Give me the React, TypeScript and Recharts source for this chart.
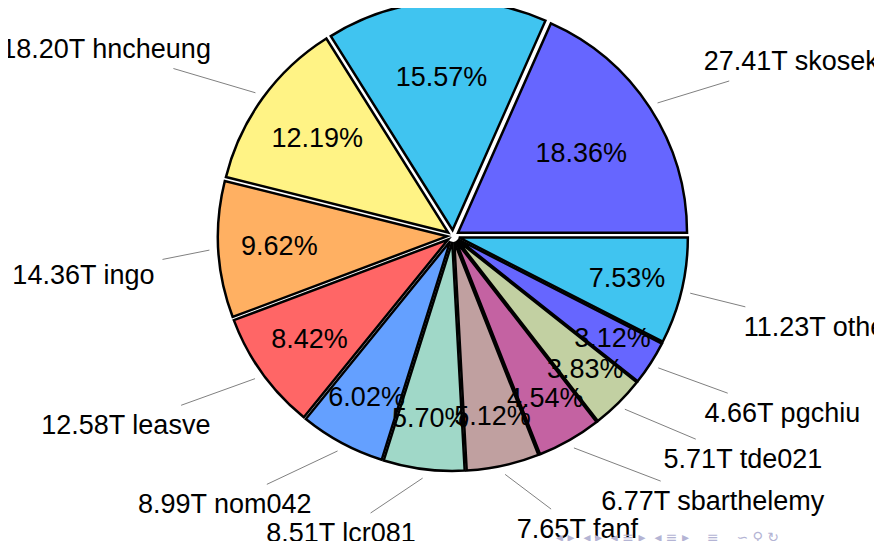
import { PieChart, Pie, Cell, Sector } from 'recharts';

// who uses the disk, in TB, and their share of the total
const users = ['skoseki', '', 'hncheung', 'ingo', 'leasve', 'nom042', 'lcr081', 'fanf', 'sbarthelemy', 'tde021', 'pgchiu', 'others'];
const sizes = [27.41, 23.25, 18.2, 14.36, 12.58, 8.99, 8.51, 7.65, 6.77, 5.71, 4.66, 11.23];
const shares = [18.36, 15.57, 12.19, 9.62, 8.42, 6.02, 5.7, 5.12, 4.54, 3.83, 3.12, 7.53];

const colors = [
  '#6666ff', '#40c4f0', '#fff385', '#ffb062', '#ff6666', '#64a0ff',
  '#a0d8c8', '#c0a0a0', '#c462a2', '#c2d0a2', '#6666ff', '#40c4f0',
];

const data = users.map((name, i) => ({ name, size: sizes[i], share: shares[i] }));

const RADIAN = Math.PI / 180;
const R = 229;
const EXPLODE = 6;
const FONT = "'Liberation Sans', Arial, sans-serif";
const FONT_SIZE = 27;

let ctx: CanvasRenderingContext2D | null = null;
const measure = (text: string) => {
  if (!ctx) ctx = document.createElement('canvas').getContext('2d');
  if (!ctx) return text.length * 13;
  ctx.font = `${FONT_SIZE}px ${FONT}`;
  return ctx.measureText(text).width;
};

// pull each slice out a little along its middle angle
const ExplodedSlice = (props: any) => {
  const { cx, cy, midAngle } = props;
  const ux = Math.cos(midAngle * RADIAN);
  const uy = -Math.sin(midAngle * RADIAN);
  return <Sector {...props} cx={cx + EXPLODE * ux} cy={cy + EXPLODE * uy} />;
};

const renderLabel = (props: any) => {
  const { cx, cy, midAngle, index } = props;
  const ux = Math.cos(midAngle * RADIAN);
  const uy = -Math.sin(midAngle * RADIAN);
  const ox = cx + EXPLODE * ux;
  const oy = cy + EXPLODE * uy;

  // smaller slices get their percentage pushed further out
  const rIn = 191 - 2.4 * shares[index];
  const pct = (
    <text
      x={ox + rIn * ux}
      y={oy + rIn * uy}
      textAnchor="middle"
      dominantBaseline="central"
      fill="#000"
      fontSize={FONT_SIZE}
      fontFamily={FONT}
    >
      {shares[index].toFixed(2)}%
    </text>
  );

  const name = users[index];
  if (!name) return <g>{pct}</g>;

  const text = `${sizes[index].toFixed(2)}T ${name}`;
  const w = measure(text);
  const ex = cx + (R + 70) * ux;
  const ey = cy + (R + 70) * uy;
  const anchor = ux > 0 ? 'start' : 'end';
  const ly = ey + (uy < 0 ? -12 : 22 * ux * ux);
  const x0 = anchor === 'start' ? ex : ex - w;
  const lx = x0 + w / 2;
  const hw = w / 2 + 8;
  const hh = 20;

  // pin line from just outside the pie towards the label box
  const sx = cx + (R + 15) * ux;
  const sy = cy + (R + 15) * uy;
  const dx = lx - sx;
  const dy = ly - sy;
  const tx = dx !== 0 ? (dx > 0 ? lx - hw - sx : lx + hw - sx) / dx : -Infinity;
  const ty = dy !== 0 ? (dy > 0 ? ly - hh - sy : ly + hh - sy) / dy : -Infinity;
  const t = Math.max(0, Math.min(1, Math.max(tx, ty)));

  return (
    <g>
      {pct}
      <line x1={sx} y1={sy} x2={sx + t * dx} y2={sy + t * dy} stroke="#808080" strokeWidth={1} />
      <text
        x={ex}
        y={ly}
        textAnchor={anchor}
        dominantBaseline="central"
        fill="#000"
        fontSize={FONT_SIZE}
        fontFamily={FONT}
      >
        {text}
      </text>
    </g>
  );
};

export default function App() {
  return (
    <div style={{ margin: -8, position: 'relative', width: 882, height: 549, background: '#fff' }}>
      <PieChart width={882} height={549} margin={{ top: 0, right: 0, bottom: 0, left: 0 }}>
        <Pie
          data={data}
          dataKey="share"
          nameKey="name"
          cx={453}
          cy={236}
          outerRadius={R}
          startAngle={0}
          endAngle={360}
          stroke="#000"
          strokeWidth={2.5}
          shape={ExplodedSlice}
          label={renderLabel}
          labelLine={false}
          isAnimationActive={false}
        >
          {data.map((d, i) => (
            <Cell key={d.name + i} fill={colors[i]} />
          ))}
        </Pie>
      </PieChart>
      <div
        style={{
          position: 'absolute',
          left: 556,
          top: 529,
          fontSize: 14,
          color: '#b4b4d4',
          fontFamily: "'DejaVu Sans', sans-serif",
          whiteSpace: 'pre',
          lineHeight: '16px',
        }}
      >
        {'◂ ▸  ◂ ▸  ◂ ≡ ▸  ◂ ≡ ▸    ≡    ∽ ⚲ ↻'}
      </div>
    </div>
  );
}
